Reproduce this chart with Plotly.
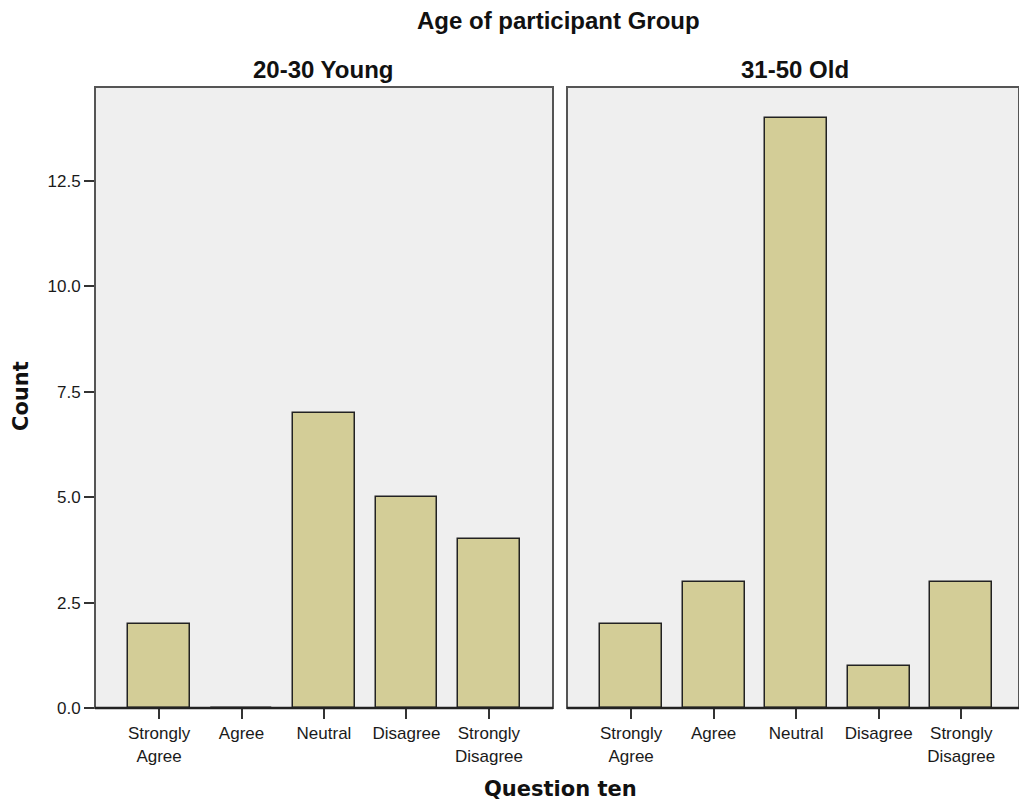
import plotly.graph_objects as go

categories = ["Strongly<br>Agree", "Agree", "Neutral", "Disagree", "Strongly<br>Disagree"]
young_counts = [2, 0, 7, 5, 4]
old_counts = [2, 3, 14, 1, 3]
panel_titles = ["20-30 Young", "31-50 Old"]
y_ticks = [0, 2.5, 5, 7.5, 10, 12.5]
y_tick_labels = ["0.0", "2.5", "5.0", "7.5", "10.0", "12.5"]

W, H = 1019, 802
bar_color = "#d3cd97"
bg = "#efefef"


def px(x):
    return x / W


def py(y):
    return 1 - y / H


fig = go.Figure()
fig.add_trace(go.Bar(x=list(range(5)), y=young_counts, xaxis="x", yaxis="y",
                     marker=dict(color=bar_color, line=dict(color="#222", width=1.5)),
                     width=0.75, showlegend=False))
fig.add_trace(go.Bar(x=list(range(5)), y=old_counts, xaxis="x2", yaxis="y2",
                     marker=dict(color=bar_color, line=dict(color="#222", width=1.5)),
                     width=0.75, showlegend=False))

ybot = py(708)
ytop = py(87)
tickfont = dict(family="Liberation Sans, Arial", size=17, color="#1a1a1a")

xcommon = dict(tickmode="array", tickvals=list(range(5)), ticktext=categories,
               ticks="outside", ticklen=10, tickcolor="#333", tickwidth=2,
               showgrid=False, zeroline=False, showline=False, tickfont=tickfont,
               fixedrange=True, automargin=False)
fig.update_layout(
    width=W, height=H,
    margin=dict(l=0, r=0, t=0, b=0),
    paper_bgcolor="white", plot_bgcolor=bg,
    bargap=0,
    xaxis=dict(domain=[px(95), px(553)], range=[-0.777, 4.777], anchor="y", **xcommon),
    xaxis2=dict(domain=[px(567), 1.0], range=[-0.777, 4.70], anchor="y2", **xcommon),
    yaxis=dict(domain=[ybot, ytop], range=[0, 14.73], tickmode="array",
               tickvals=y_ticks, ticktext=y_tick_labels, ticks="outside", ticklen=10,
               tickcolor="#333", tickwidth=2, showgrid=False, zeroline=False,
               showline=False, tickfont=tickfont, anchor="x", automargin=False,
               fixedrange=True),
    yaxis2=dict(domain=[ybot, ytop], range=[0, 14.73], showticklabels=False,
                showgrid=False, zeroline=False, showline=False, anchor="x2",
                automargin=False, fixedrange=True),
)

# panel frames
for xr, yr in [("x domain", "y domain"), ("x2 domain", "y2 domain")]:
    fig.add_shape(type="rect", xref=xr, yref=yr, x0=0, x1=1, y0=0, y1=1,
                  line=dict(color="#555", width=2), layer="above")
    fig.add_shape(type="line", xref=xr, yref=yr, x0=0, x1=1, y0=0, y1=0,
                  line=dict(color="#222", width=2.5), layer="above")

titlefont = dict(family="Liberation Sans, Arial", size=24, color="#111")
fig.add_annotation(text="<b>Age of participant Group</b>", xref="paper", yref="paper",
                   x=px(558), y=py(20), showarrow=False, font=titlefont,
                   xanchor="center", yanchor="middle")
fig.add_annotation(text="<b>" + panel_titles[0] + "</b>", xref="paper", yref="paper",
                   x=px(323), y=py(69), showarrow=False, font=titlefont,
                   xanchor="center", yanchor="middle")
fig.add_annotation(text="<b>" + panel_titles[1] + "</b>", xref="paper", yref="paper",
                   x=px(795), y=py(69), showarrow=False, font=titlefont,
                   xanchor="center", yanchor="middle")
axfont = dict(family="DejaVu Sans", size=21, color="#111")
fig.add_annotation(text="<b>Question ten</b>", xref="paper", yref="paper",
                   x=px(560), y=py(789), showarrow=False, font=axfont,
                   xanchor="center", yanchor="middle")
fig.add_annotation(text="<b>Count</b>", xref="paper", yref="paper",
                   x=px(21), y=py(396), showarrow=False, font=axfont,
                   textangle=-90, xanchor="center", yanchor="middle")

fig.write_html("out.html", config={"displayModeBar": False},
               post_script="document.body.style.margin='0';")
